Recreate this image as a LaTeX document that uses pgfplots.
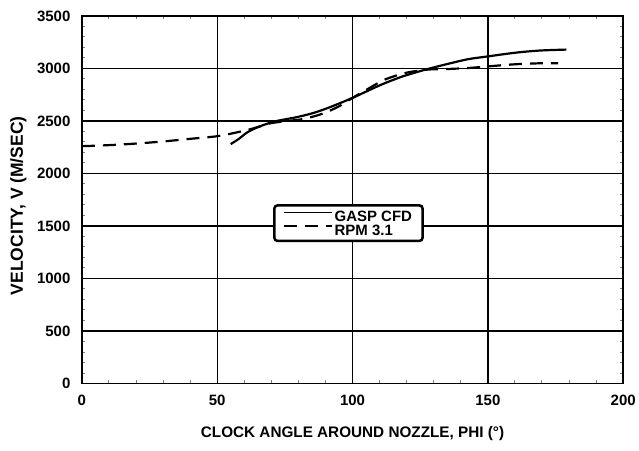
\documentclass[border=0pt]{standalone}
\usepackage{pgfplots}
\pgfplotsset{compat=1.18}
\usepackage{fontspec}
\setmainfont{Liberation Sans}
\begin{document}
\begin{tikzpicture}[x=1pt,y=1pt]
\begin{axis}[
  name=ax,
  at={(0,0)}, anchor=south west,
  scale only axis,
  width=542pt, height=368pt,
  xmin=0, xmax=200, ymin=0, ymax=3500,
  xtick={0,50,...,200}, ytick={0,500,...,3500},
  minor x tick num=4, minor y tick num=4,
  tick align=inside,
  major tick length=0pt, minor tick length=3.5pt,
  every minor tick/.style={line width=1pt},
  grid=major,
  major grid style={line width=1.3pt, black},
  axis line style={line width=1.8pt},
  tick label style={font=\fontsize{15}{17}\selectfont\bfseries},
  /pgf/number format/assume math mode=true,
  /pgf/number format/set thousands separator={},
  xticklabel style={yshift=-8pt},
  yticklabel style={xshift=-8pt},
  xlabel={CLOCK ANGLE AROUND NOZZLE, PHI (\textdegree)},
  ylabel={VELOCITY, V (M/SEC)},
  xlabel style={font=\fontsize{15.3}{17}\selectfont\bfseries,
    at={(axis description cs:0.5,-0.1467)}, anchor=base},
  ylabel style={font=\fontsize{17.5}{19}\selectfont\bfseries,
    at={(axis description cs:-0.1089,0.4837)}, anchor=base},
  legend style={at={(axis cs:98.5,1527)}, anchor=center,
    draw=black, line width=2.5pt, rounded corners=3pt, fill=white,
    font=\fontsize{15}{15}\selectfont\bfseries,
    row sep=1.5pt, inner xsep=9pt, inner ysep=5pt,
    nodes={inner xsep=1.5pt, inner ysep=0.5pt, text height=11pt, text depth=0pt}},
  legend cell align=left,
  legend image code/.code={\draw[#1, line width=1.8pt] (0pt,4pt) -- (48pt,4pt);},
]
\addplot[black, line width=2.2pt, smooth] coordinates {
(55,2280) (58,2330) (61,2390) (64,2430) (68,2470) (72,2500) (80,2540)
(86,2580) (92,2635) (100,2720) (105,2780) (111,2850) (118,2920)
(125,2975) (130,3010) (137,3055) (143,3090) (150,3115) (157,3140)
(163,3158) (170,3172) (179,3180)};
\addlegendentry{GASP CFD}
\addplot[black, line width=2.2pt, smooth, dash pattern=on 13pt off 8pt] coordinates {
(0,2260) (10,2270) (20,2285) (30,2305) (40,2330) (50,2355) (57,2390)
(62,2420) (66,2450) (70,2480) (76,2500) (82,2520) (89,2570) (95,2640)
(100,2720) (106,2810) (112,2895) (120,2960) (128,2990) (135,2995)
(143,3005) (150,3020) (160,3040) (170,3050) (176,3050)};
\addlegendentry{RPM 3.1}
\end{axis}
\useasboundingbox (-82,-67) rectangle (557,384);
\end{tikzpicture}
\end{document}
